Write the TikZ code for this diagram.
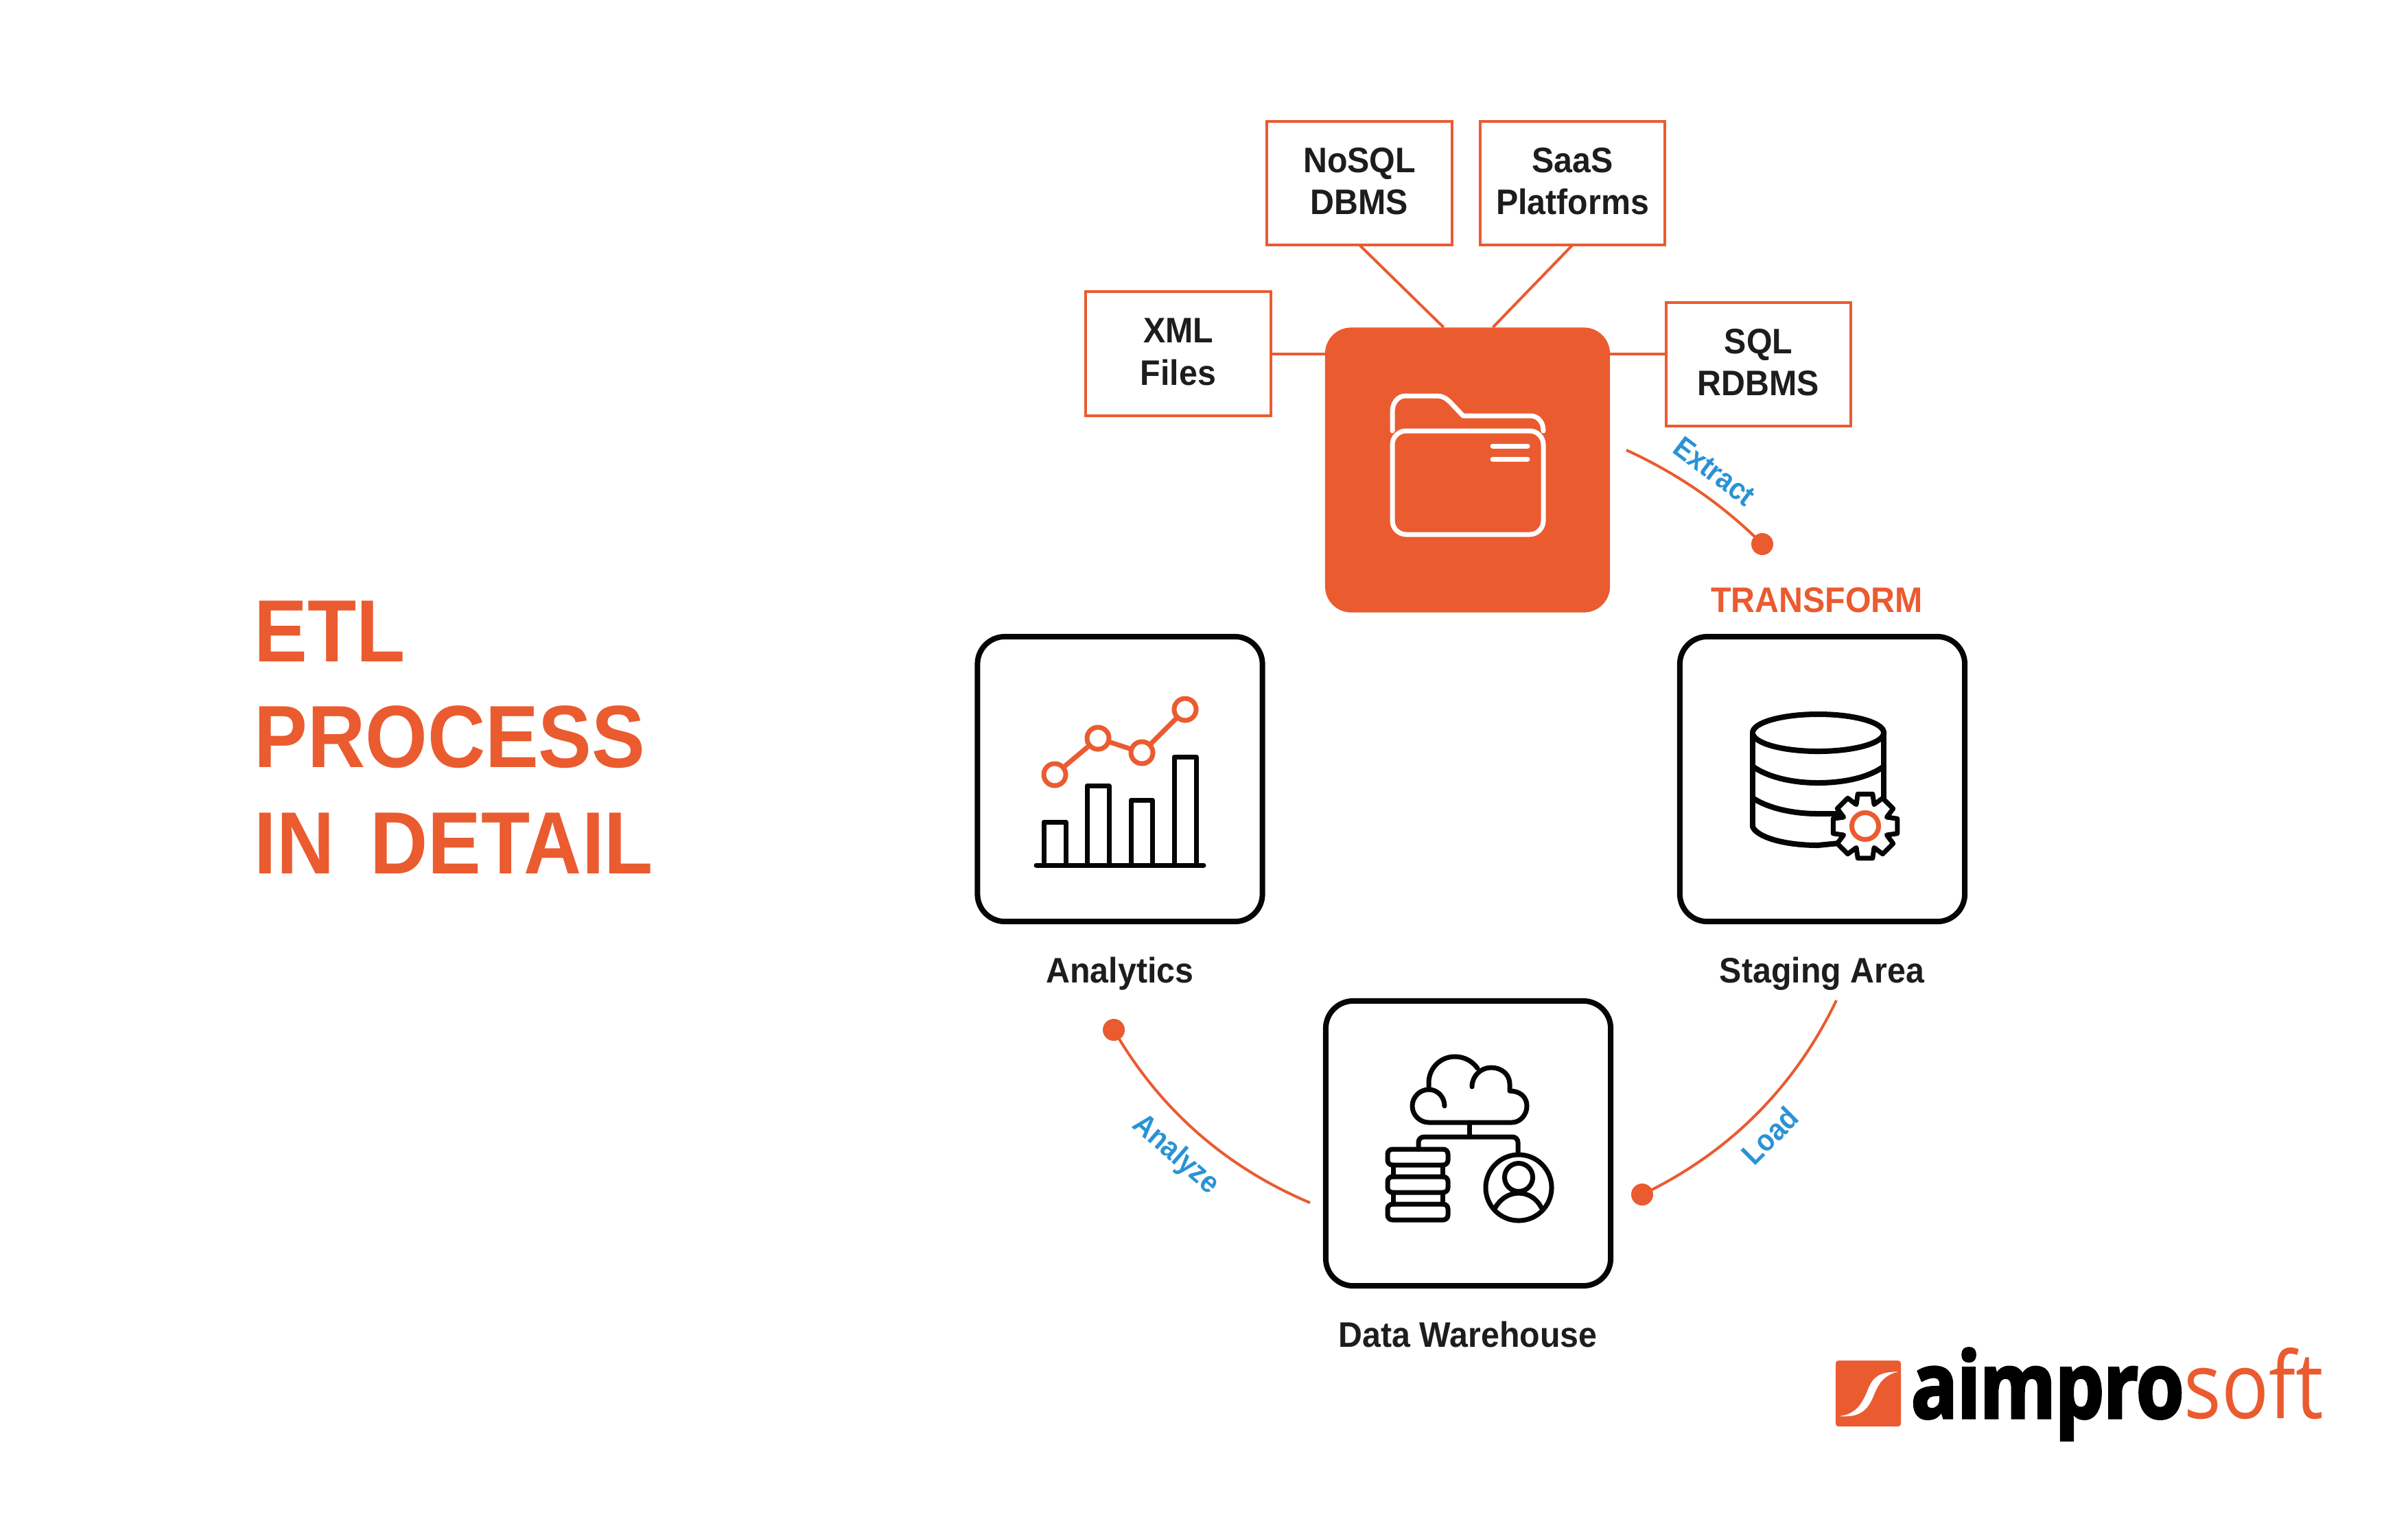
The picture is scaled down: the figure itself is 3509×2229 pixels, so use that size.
\documentclass[tikz,border=0pt]{standalone}
\usepackage{fontspec}
\setmainfont{Liberation Sans}
\newfontfamily\tx[FakeStretch=0.935]{Liberation Sans}
\newfontfamily\ttl[FakeStretch=0.905]{Liberation Sans}
\newfontfamily\bl[FakeStretch=0.90]{Liberation Sans}
\newfontfamily\logoB[FakeStretch=0.84,FakeBold=2.4,LetterSpace=-1]{Open Sans}
\newfontfamily\logoR[FakeStretch=0.85]{Open Sans}
\definecolor{org}{HTML}{EA5B30}
\definecolor{ink}{HTML}{1D1D1B}
\definecolor{blk}{HTML}{050505}
\definecolor{blu}{HTML}{2A93D5}
\newcommand{\lowfix}{\rule[-.06cm]{0pt}{0pt}}
\tikzset{
  srcbox/.style={draw=org,line width=.04cm,fill=white,minimum width=2.69cm,minimum height=1.80cm,inner sep=0pt,outer sep=0pt,align=center,text=ink,font=\tx\bfseries\fontsize{14.7}{17.5}\selectfont},
  card/.style={draw=blk,line width=.08cm,fill=white,rounded corners=.40cm,minimum size=4.15cm,inner sep=0pt,outer sep=0pt},
  hub/.style={fill=org,rounded corners=.38cm,minimum size=4.15cm,inner sep=0pt,outer sep=0pt},
  link/.style={draw=org,line width=.04cm},
  flow/.style={draw=org,line width=.04cm},
  dotend/.style={circle,fill=org,minimum size=.32cm,inner sep=0pt,outer sep=0pt},
  cardcap/.style={anchor=base,text=ink,inner sep=0pt,font=\tx\bfseries\fontsize{14.7}{17.4}\selectfont},
  steplabel/.style={text=blu,font=\bl\bfseries\fontsize{12.6}{14}\selectfont,text height=.32cm,text depth=0cm,inner sep=0pt},
  bigtitle/.style={anchor=base west,text=org,inner sep=0pt,font=\ttl\bfseries\fontsize{36.6}{40}\selectfont},
  ico/.style={draw=blk,line width=.07cm,line cap=round,line join=round},
  icoO/.style={draw=org,line width=.07cm,line cap=round,line join=round},
  icoW/.style={draw=white,line width=.07cm,line cap=round,line join=round},
}
\begin{document}
\begin{tikzpicture}[x=.01cm,y=-.01cm]
\useasboundingbox (0,0) rectangle (3509,2229);
\fill[white] (0,0) rectangle (3509,2229);

% title
\node[bigtitle] (t1) at (370,964) {ETL};
\node[bigtitle] (t2) at (370,1118) {PROCESS};
\node[bigtitle] (t3) at (370,1273) {IN\hspace{.20cm} DETAIL};

% source hub
\node[hub] (src) at (2138.5,685) {};
\coordinate (srcA) at (2103.5,477);
\coordinate (srcB) at (2175.5,477);
\coordinate (srcL) at (1931,516);
\coordinate (srcR) at (2346,516);

\node[srcbox] (nosql) at (1981,267) {NoSQL\\DBMS\lowfix};
\node[srcbox] (saas) at (2291.5,267) {SaaS\\Platforms\lowfix};
\node[srcbox] (xml) at (1717,515.5) {XML\\Files\lowfix};
\node[srcbox] (sql) at (2562.5,531) {SQL\\RDBMS\lowfix};

\draw[link] (nosql.south) -- (srcA);
\draw[link] (saas.south) -- (srcB);
\draw[link] (xml.east |- srcL) -- (srcL);
\draw[link] (sql.west |- srcR) -- (srcR);

% folder
\draw[icoW] (2029,628) -- (2029,600) .. controls (2029,587) and (2037,577) .. (2048,577) -- (2095,577) .. controls (2102,577) and (2108,581) .. (2113,586) -- (2132,606) -- (2230,606) .. controls (2241,606) and (2249,615) .. (2249,628);
\draw[icoW,rounded corners=.2cm] (2029,628) rectangle (2249,779);
\draw[icoW] (2175,650) -- (2226,650);
\draw[icoW] (2175,669) -- (2226,669);

% cards
\node[card] (stage) at (2655.5,1135.5) {};
\node[card] (ana) at (1632,1135.5) {};
\node[card] (dw) at (2139.5,1666.5) {};
\node[cardcap] (stageC) at (2655,1432) {Staging Area};
\node[cardcap] (anaC) at (1632,1432) {Analytics};
\node[cardcap] (dwC) at (2139,1963) {Data Warehouse};
\node[anchor=base,text=org,inner sep=0pt,font=\tx\bfseries\fontsize{14.7}{17.4}\selectfont] (tr) at (2647.5,892.5) {TRANSFORM};

% flows
\coordinate (exS) at (2370,656);
\coordinate (ldS) at (2676,1458);
\coordinate (anS) at (1909,1753);
\node[dotend] (dotE) at (2568,793) {};
\node[dotend] (dotL) at (2393,1741) {};
\node[dotend] (dotA) at (1623,1501) {};
\draw[flow] (exS) .. controls (2444,690) and (2510,735) .. (dotE.center);
\draw[flow] (ldS) .. controls (2615,1585) and (2520,1680) .. (dotL.center);
\draw[flow] (anS) .. controls (1786,1701) and (1690,1617) .. (dotA.center);
\node[steplabel,rotate=-37] (lE) at (2499,686) {Extract};
\node[steplabel,rotate=45] (lL) at (2579,1655) {Load};
\node[steplabel,rotate=-41] (lA) at (1716,1680) {Analyze};

% database icon
\begin{scope}[ico,line width=.08cm]
\draw (2649.5,1068) ellipse [x radius=.955cm,y radius=.27cm];
\draw (2554,1068) -- (2554,1205);
\draw (2745,1068) -- (2745,1170);
\draw (2554,1117) .. controls (2575,1132) and (2610,1141) .. (2649,1141) .. controls (2690,1141) and (2725,1132) .. (2745,1117);
\draw (2554,1163) .. controls (2575,1177) and (2610,1186) .. (2649,1186) -- (2690,1186);
\draw (2554,1205) .. controls (2560,1220) and (2600,1232) .. (2649,1232) -- (2690,1228);
\draw[fill=white,line width=.07cm,shift={(2718,1204)}] (-13:48)
  \foreach \a in {0,45,...,315} { -- ({\a-13}:48) -- ({\a+13}:48) -- ({\a+22.5}:34) } -- cycle;
\end{scope}
\draw[icoO] (2718,1204) circle (.195cm);

% chart icon
\draw[ico] (1510,1261) -- (1754,1261);
\draw[ico] (1521,1261) -- (1521,1198) -- (1553,1198) -- (1553,1261);
\draw[ico] (1584,1261) -- (1584,1145) -- (1616,1145) -- (1616,1261);
\draw[ico] (1648,1261) -- (1648,1166) -- (1679,1166) -- (1679,1261);
\draw[ico] (1711,1261) -- (1711,1103) -- (1743,1103) -- (1743,1261);
\draw[icoO] (1537,1129) -- (1600,1076) -- (1664,1097) -- (1727,1034);
\foreach \p in {(1537,1129),(1600,1076),(1664,1097),(1727,1034)}
  \draw[icoO,fill=white] \p circle (.16cm);

% warehouse icon
\draw[ico] (2105,1612) .. controls (2105,1599) and (2095,1588) .. (2082,1588) .. controls (2069,1588) and (2058,1599) .. (2058,1612) .. controls (2058,1625) and (2069,1636) .. (2082,1636) -- (2203,1636) .. controls (2215,1636) and (2225,1625) .. (2225,1612) .. controls (2225,1599) and (2215,1590) .. (2200,1590) -- (2200,1580) .. controls (2200,1566) and (2188,1556) .. (2173,1556) .. controls (2158,1556) and (2145,1568) .. (2145,1584);
\draw[ico] (2082,1588) -- (2082,1578) .. controls (2082,1557) and (2099,1540) .. (2120,1540) .. controls (2134,1540) and (2146,1547) .. (2153,1557);
\draw[ico] (2141,1636) -- (2141,1657);
\draw[ico,rounded corners=.08cm] (2067,1675) -- (2067,1657) -- (2212,1657) -- (2212,1680);
\draw[ico,rounded corners=.07cm] (2022,1675) rectangle (2110,1698);
\draw[ico,rounded corners=.07cm] (2022,1715) rectangle (2110,1738);
\draw[ico,rounded corners=.07cm] (2022,1755) rectangle (2110,1778);
\draw[ico] (2030,1698) -- (2030,1715) (2102,1698) -- (2102,1715) (2030,1738) -- (2030,1755) (2102,1738) -- (2102,1755);
\draw[ico] (2213,1731) circle (.48cm);
\draw[ico] (2213,1716) circle (.205cm);
\draw[ico] (2179,1760) .. controls (2186,1748) and (2198,1739) .. (2213,1739) .. controls (2228,1739) and (2240,1748) .. (2246,1760);

% logo
\fill[org,rounded corners=.04cm] (2675,1983) rectangle (2770,2079);
\fill[white] (2679,2064) .. controls (2705,2062) and (2714,2045) .. (2722,2025) .. controls (2730,2005) and (2740,2000) .. (2766,1999) .. controls (2745,2005) and (2738,2015) .. (2730,2035) .. controls (2720,2060) and (2705,2066) .. (2679,2064) -- cycle;
\node[anchor=base west,inner sep=0pt,text=black,font=\fontsize{38.3}{40}\selectfont] (logo) at (2784,2067) {{\logoB\bfseries aimpro}{\logoR\color{org}soft}};
\end{tikzpicture}
\end{document}
